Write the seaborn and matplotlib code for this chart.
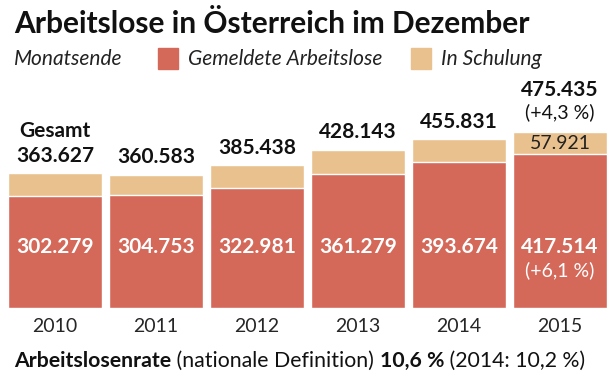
import pandas as pd
import numpy as np
import matplotlib.pyplot as plt
import seaborn as sns

jahre = ["2010", "2011", "2012", "2013", "2014", "2015"]
gesamt = [363627, 360583, 385438, 428143, 455831, 475435]
arbeitslose = [302279, 304753, 322981, 361279, 393674, 417514]
schulung_2015 = "57.921"
gesamt_labels = ["363.627", "360.583", "385.438", "428.143", "455.831", "475.435"]
arbeitslose_labels = ["302.279", "304.753", "322.981", "361.279", "393.674", "417.514"]

rot = "#D4695A"
beige = "#E8C18E"

sns.set_style("white")
plt.rcParams['font.family'] = ['Lato', 'DejaVu Sans']

df = pd.DataFrame({"Jahr": jahre, "Gesamt": gesamt, "Arbeitslose": arbeitslose})

W, H = 616, 377
fig = plt.figure(figsize=(W / 100, H / 100), dpi=100)
# Achse: x von 4.5 bis 610.5 px, Nulllinie bei y=308 px
base_px = 308
top_px = 95
px_per_unit = 0.00037
ax = fig.add_axes([4.5 / W, (H - base_px) / H, 606 / W, (base_px - top_px) / H])

sns.barplot(data=df, x="Jahr", y="Gesamt", color=beige, width=0.93, ax=ax,
            saturation=1)
sns.barplot(data=df, x="Jahr", y="Arbeitslose", color=rot, width=0.93, ax=ax,
            saturation=1)
ax.set_ylim(0, (base_px - top_px) / px_per_unit)
ax.set_xlim(-0.5, 5.5)
sns.despine(ax=ax, left=True, bottom=True)
ax.set_yticks([])
ax.set_xlabel("")
ax.set_ylabel("")
ax.tick_params(axis="x", length=0, pad=7, labelsize=14)

# Werte
for i in range(len(jahre)):
    if i < 5:
        ax.annotate(gesamt_labels[i], (i, gesamt[i]), xytext=(0, 8), textcoords="offset points",
                    ha="center", va="baseline", fontsize=15, fontweight="bold", color="#111111")
    ax.text(i, (base_px - 247) / px_per_unit, arbeitslose_labels[i], ha="center", va="center",
            fontsize=15, fontweight="bold", color="white")

ax.annotate("Gesamt", (0, gesamt[0]), xytext=(0, 26), textcoords="offset points",
            ha="center", va="baseline", fontsize=15, fontweight="bold", color="#111111")
ax.annotate("(+4,3 %)", (5, gesamt[5]), xytext=(0, 10), textcoords="offset points",
            ha="center", va="baseline", fontsize=14, color="#111111")
ax.annotate(gesamt_labels[5], (5, gesamt[5]), xytext=(0, 26), textcoords="offset points",
            ha="center", va="baseline", fontsize=15, fontweight="bold", color="#111111")
ax.text(5, (gesamt[5] + arbeitslose[5]) / 2 - 2000, schulung_2015, ha="center", va="center",
        fontsize=14, color="#222222")
ax.text(5, (base_px - 270) / px_per_unit, "(+6,1 %)", ha="center", va="center",
        fontsize=14, color="white")

# Titel
fig.text(14 / W, 1 - 33 / H, "Arbeitslose in Österreich im Dezember", fontsize=21.5,
         fontweight="bold", va="baseline", ha="left", color="#111111")

# Legende
ly = 1 - 59 / H
fig.text(14 / W, ly, "Monatsende", fontsize=15, style="italic", va="center", color="#222222")
fig.patches.append(plt.Rectangle((158 / W, 1 - 69 / H), 20 / W, 21 / H, color=rot,
                                 transform=fig.transFigure, figure=fig))
fig.text(188 / W, ly, "Gemeldete Arbeitslose", fontsize=15, style="italic", va="center",
         color="#222222")
fig.patches.append(plt.Rectangle((411 / W, 1 - 69 / H), 20 / W, 21 / H, color=beige,
                                 transform=fig.transFigure, figure=fig))
fig.text(441 / W, ly, "In Schulung", fontsize=15, style="italic", va="center", color="#222222")

# Fußzeile
teile = [("Arbeitslosenrate", "bold"), (" (nationale Definition) ", "normal"),
         ("10,6 %", "bold"), (" (2014: 10,2 %)", "normal")]
fy = 1 - 367 / H
fuss = []
for txt, w in teile:
    fuss.append(fig.text(14 / W, fy, txt, fontsize=15.3, fontweight=w, va="baseline",
                         color="#111111"))
fig.canvas.draw()
for prev, tx in zip(fuss[:-1], fuss[1:]):
    bb = prev.get_window_extent()
    tx.set_position((bb.x1 / W, fy))

fig.savefig("out.png", dpi=100)
